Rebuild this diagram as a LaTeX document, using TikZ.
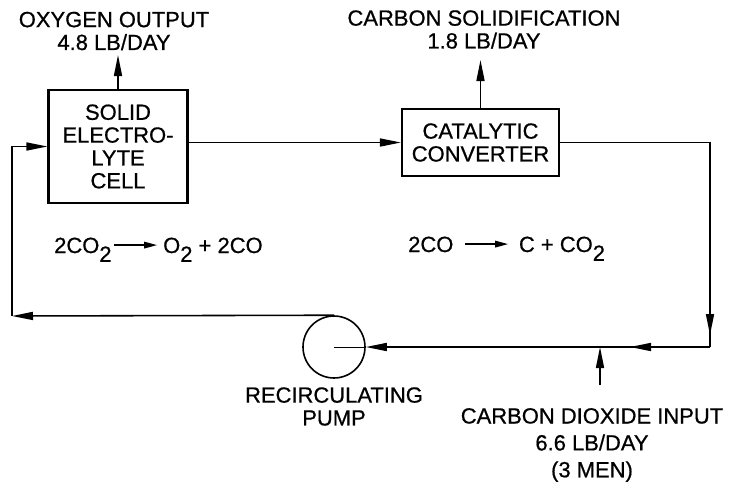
\documentclass[tikz,border=0pt]{standalone}
\usepackage{fontspec}
\setmainfont{Liberation Sans}[FakeBold=0.7]
\usetikzlibrary{arrows.meta,decorations.markings}

\newcommand{\lowsub}[1]{\raisebox{-0.4em}{#1}}
\newcommand{\rxarrow}{\tikz[baseline=-0.36em]\draw[line width=0.9pt,-{Triangle[length=0.26cm,width=0.13cm]}] (0,0) -- (0.86,0);}

\begin{document}
\begin{tikzpicture}[
    pipe/.style={line width=0.9pt},
    flow/.style={pipe, -{Triangle[length=0.42cm,width=0.16cm]}},
    midarrow/.style={postaction={decorate}, decoration={markings,
      mark=at position #1 with {\arrow{Triangle[length=0.42cm,width=0.16cm]}}}},
    box/.style={draw, line width=1.2pt, align=center, inner sep=0pt,
      font=\fontsize{12.5}{13}\selectfont},
    txt/.style={align=center, font=\fontsize{12.5}{13}\selectfont}]
  \useasboundingbox (0,0) rectangle (14.72,-9.78);
  \node[box, minimum width=2.78cm, minimum height=2.26cm] (cell) at (2.36,-2.93)
    {SOLID\\ELECTRO-\\LYTE\\CELL};
  \node[box, minimum width=3.14cm, minimum height=1.34cm] (conv) at (9.61,-2.85)
    {CATALYTIC\\CONVERTER};
  \node[draw, circle, line width=0.9pt, minimum size=1.24cm, inner sep=0pt] (pump) at (6.68,-6.94) {};
  \node[txt] (oxy) at (2.28,-0.62) {OXYGEN OUTPUT\\4.8 LB/DAY};
  \node[txt] (carb) at (9.68,-0.59) {CARBON SOLIDIFICATION\\1.8 LB/DAY};
  \node[txt, anchor=base west] (rxcell) at (0.96,-5.06)
    {2CO\lowsub{2}\hspace{1pt}\rxarrow\hspace{3pt}O\lowsub{2} + 2CO};
  \node[txt, anchor=base west] (rxconv) at (8.04,-5.04)
    {2CO\hspace{0.22cm}\rxarrow\hspace{0.2cm}C + CO\lowsub{2}};
  \node[txt] (pumplbl) at (6.68,-8.13) {RECIRCULATING\\PUMP};
  \node[txt, font=\fontsize{12.5}{15.3}\selectfont] (co2in) at (11.84,-8.90)
    {CARBON DIOXIDE INPUT\\6.6 LB/DAY\\(3 MEN)};
  \coordinate (oxout) at (2.36,-1.10);
  \coordinate (cout) at (9.61,-1.20);
  \coordinate (cl) at (0.24,-6.32); % lower left corner
  \coordinate (cr) at (14.2,-6.94); % lower right corner
  \coordinate (cin) at (12.0,-7.70);
  \draw[flow] (cell.north) -- (cell.north |- oxout);
  \draw[flow] (conv.north) -- (conv.north |- cout);
  \draw[flow] (cell.east |- conv.west) -- (conv.west);
  \draw[pipe, midarrow=-0.24cm] (conv.east) -| (cr); % down the right side
  \draw[flow, midarrow=1.6cm] (cr) -- (pump.east);
  \draw[thin] (pump.east) -- (pump.center);
  \draw[flow] (cin) -- (cin |- cr);
  \draw[flow] (pump.north) -- (cl);
  \draw[flow] (cl) |- (cell.west);
\end{tikzpicture}
\end{document}
